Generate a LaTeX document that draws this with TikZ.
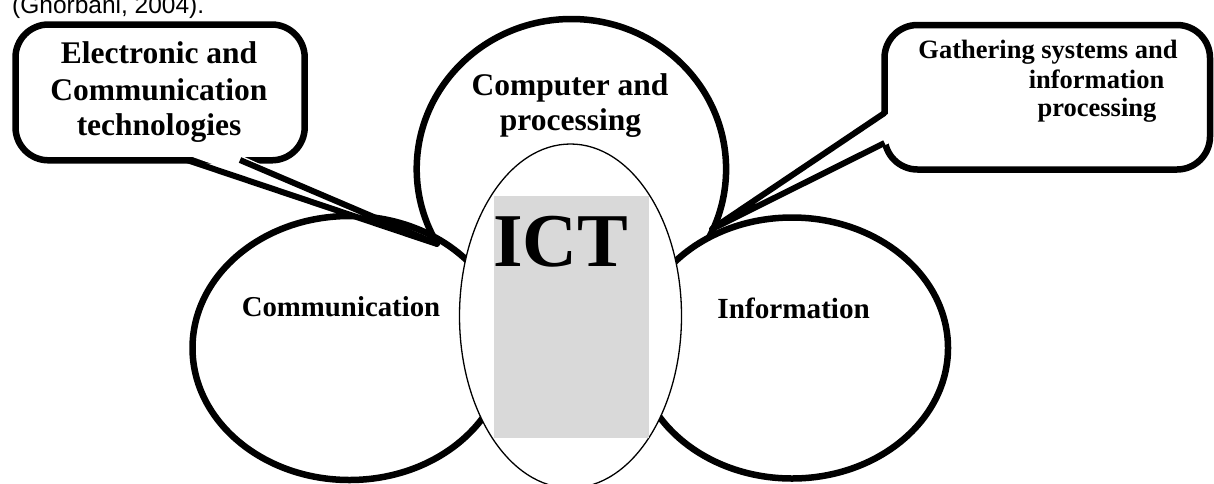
\documentclass[tikz,border=0pt]{standalone}
\usepackage{fontspec}
\setmainfont{Liberation Serif}
\newfontfamily\citefont{Liberation Sans}
\usetikzlibrary{shapes.geometric}
\definecolor{ictgray}{RGB}{217,217,217}
\begin{document}
\begin{tikzpicture}[x=1pt,y=-1pt,
  bubble/.style={draw, fill=white, line width=6.5pt, ellipse, inner sep=0pt},
  callout/.style={draw, fill=white, line width=6.5pt, rounded corners=33pt, inner sep=0pt},
  tailline/.style={line width=6pt, line join=round},
  lbl/.style={inner sep=0pt, anchor=base, font=\bfseries\fontsize{#1}{#1}\selectfont},
]
\useasboundingbox (0,0) rectangle (1214,483);

% citation line (cut at top)
\node[anchor=base west, inner sep=0pt, font=\citefont\fontsize{24.5}{24.5}\selectfont] (cite) at (12,13) {(Ghorbani, 2004).};

% three outer circles
\node[bubble, minimum width=309.4pt, minimum height=300pt] (comp) at (571.4,169) {};
\node[bubble, minimum width=314pt, minimum height=264pt] (comm) at (349.5,348) {};
\node[bubble, minimum width=312pt, minimum height=261pt] (info) at (792,348) {};

% left callout
\node[callout, minimum width=289.2pt, minimum height=135.8pt] (lbox) at (160.1,92.4) {};
\coordinate (ltip) at (437,244);
\coordinate (lb1) at (187,160);
\coordinate (lb2) at (240,160);
\fill[white] ([yshift=5pt]lb1) -- (ltip) -- ([yshift=5pt]lb2) -- cycle;
\draw[tailline] (lb1) -- (ltip) -- (lb2);

% right callout
\node[callout, minimum width=325.5pt, minimum height=144.5pt] (rbox) at (1047.25,97.25) {};
\coordinate (rtip) at (712,229);
\coordinate (rb1) at (884.5,113);
\coordinate (rb2) at (884.5,143);
\fill[white] ([xshift=5pt]rb1) -- (rtip) -- ([xshift=5pt]rb2) -- cycle;
\draw[tailline] (rb1) -- (rtip) -- (rb2);

% central ICT ellipse
\node[draw, fill=white, ellipse, line width=1.3pt, minimum width=222pt, minimum height=344pt, inner sep=0pt] (ict) at (570.5,316) {};
\node[fill=ictgray, anchor=north west, minimum width=155.7pt, minimum height=241.3pt, inner sep=0pt] (grayrect) at (493.3,196) {};
\node[lbl=76, anchor=base west] (ictlbl) at (493,266) {ICT};

% labels
\node[lbl=31.5] (lt1) at (159,63) {Electronic and};
\node[lbl=31.5] (lt2) at (159,100) {Communication};
\node[lbl=31.5] (lt3) at (159,135) {technologies};
\node[lbl=31.5] (ct1) at (570,95) {Computer and};
\node[lbl=31.5] (ct2) at (570.5,130) {processing};
\node[lbl=28.8] (commlbl) at (341,316) {Communication};
\node[lbl=29.2] (infolbl) at (793.7,318.3) {Information};
\node[lbl=26.5] (rt1) at (1048,58.3) {Gathering systems and};
\node[lbl=26.5] (rt2) at (1096.5,88.3) {information};
\node[lbl=26.5] (rt3) at (1097,116.7) {processing};
\end{tikzpicture}
\end{document}
